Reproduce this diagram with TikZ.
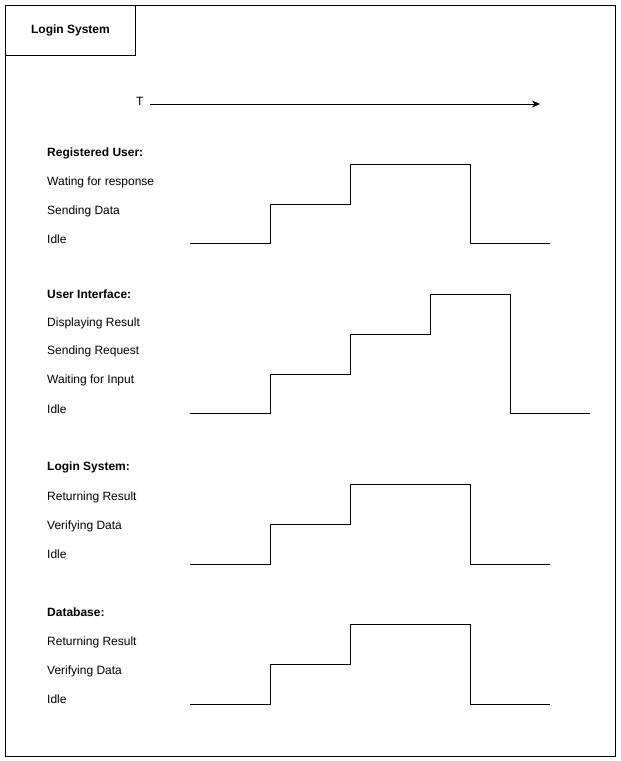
\documentclass[tikz,border=0pt]{standalone}
\usepackage{fontspec}
\setmainfont{Liberation Sans}
\usetikzlibrary{arrows.meta}
\begin{document}
\begin{tikzpicture}[x=1pt,y=-1pt,
  lbl/.style={anchor=west,inner sep=0pt,yshift=-1pt,font=\fontsize{12}{14}\selectfont},
  hdr/.style={lbl,font=\fontsize{12}{14}\selectfont\bfseries},
  sig/.style={draw=black,line width=1pt,line join=miter},
  frame/.style={draw=black,line width=1pt}]
\useasboundingbox (0,0) rectangle (621,761);
\draw[frame] (5,5) rectangle (615,756);
\node[frame,minimum width=130pt,minimum height=50pt,anchor=north west,inner sep=0pt,font=\fontsize{12}{14}\selectfont\bfseries] (title) at (5,5) {Login System};
% time axis
\node[lbl] (T) at (136,100) {T};
\coordinate (tstart) at (150,104);
\coordinate (tend) at (540,104);
\draw[line width=1pt,-{Stealth[length=8pt,width=7pt]}] (tstart) -- (tend);
% Registered user
\node[hdr] (ru) at (47,152) {Registered User:};
\node[lbl] (ru1) at (47,181) {Wating for response};
\node[lbl] (ru2) at (47,210) {Sending Data};
\node[lbl] (ru3) at (47,238) {Idle};
\draw[sig] (190,243) -- (270,243) -- (270,204) -- (350,204) -- (350,164) -- (470,164) -- (470,243) -- (550,243);
% User interface
\node[hdr] (ui) at (47,293) {User Interface:};
\node[lbl] (ui1) at (47,322) {Displaying Result};
\node[lbl] (ui2) at (47,350) {Sending Request};
\node[lbl] (ui3) at (47,379) {Waiting for Input};
\node[lbl] (ui4) at (47,408) {Idle};
\draw[sig] (190,413) -- (270,413) -- (270,374) -- (350,374) -- (350,334) -- (430,334) -- (430,294) -- (510,294) -- (510,413) -- (590,413);
% Login system
\node[hdr] (ls) at (47,466) {Login System:};
\node[lbl] (ls1) at (47,496) {Returning Result};
\node[lbl] (ls2) at (47,525) {Verifying Data};
\node[lbl] (ls3) at (47,553) {Idle};
\draw[sig] (190,564) -- (270,564) -- (270,524) -- (350,524) -- (350,484) -- (470,484) -- (470,564) -- (550,564);
% Database
\node[hdr] (db) at (47,611) {Database:};
\node[lbl] (db1) at (47,641) {Returning Result};
\node[lbl] (db2) at (47,670) {Verifying Data};
\node[lbl] (db3) at (47,698) {Idle};
\draw[sig] (190,704) -- (270,704) -- (270,664) -- (350,664) -- (350,624) -- (470,624) -- (470,704) -- (550,704);
\end{tikzpicture}
\end{document}
